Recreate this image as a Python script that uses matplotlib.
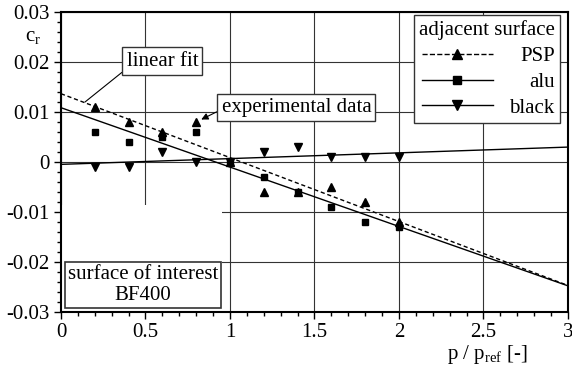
import numpy as np
import matplotlib.pyplot as plt
from matplotlib.lines import Line2D
from matplotlib.patches import Rectangle
from matplotlib.ticker import MultipleLocator, FuncFormatter

plt.rcParams["font.family"] = "Liberation Serif"
plt.rcParams["mathtext.fontset"] = "custom"
plt.rcParams["mathtext.rm"] = "Liberation Serif"
plt.rcParams["axes.unicode_minus"] = False

# pressure ratio p / p_ref and measured c_r per adjacent surface
p_ratio = [0.2, 0.4, 0.6, 0.8, 1.0, 1.2, 1.4, 1.6, 1.8, 2.0]
cr_psp = [0.011, 0.008, 0.006, 0.008, 0.0, -0.006, -0.006, -0.005, -0.008, -0.012]
cr_alu = [0.006, 0.004, 0.005, 0.006, 0.0, -0.003, -0.006, -0.009, -0.012, -0.013]
cr_black = [-0.001, -0.001, 0.002, 0.0, 0.0, 0.002, 0.003, 0.001, 0.001, 0.001]

x_fit = np.array([0.0, 3.0])
FS = 15

fig = plt.figure(figsize=(5.72, 3.65), dpi=100)
ax = fig.add_subplot(111)
fig.subplots_adjust(left=0.1066, right=0.993, top=0.967, bottom=0.1452)

series = [
    ("PSP", cr_psp, "^", 5.5, "--"),
    ("alu", cr_alu, "s", 4.2, "-"),
    ("black", cr_black, "v", 5.5, "-"),
]

handles = []
for name, vals, mk, ms, ls in series:
    ax.plot(p_ratio, vals, ls="none", marker=mk, ms=ms, color="black", zorder=3)
    slope, icpt = np.polyfit(p_ratio, vals, 1)
    ax.plot(x_fit, icpt + slope * x_fit, ls=ls, color="black", lw=1.0,
            dashes=(3, 2) if ls == "--" else (None, None), zorder=2)
    handles.append(Line2D([], [], color="black", lw=1.0, ls=ls, marker=mk, ms=ms + 1))

ax.set_xlim(0, 3)
ax.set_ylim(-0.03, 0.03)
ax.xaxis.set_major_locator(MultipleLocator(0.5))
ax.xaxis.set_minor_locator(MultipleLocator(0.1))
ax.yaxis.set_major_locator(MultipleLocator(0.01))
ax.yaxis.set_minor_locator(MultipleLocator(0.002))
fmt = FuncFormatter(lambda v, pos: "%g" % round(v, 6))
ax.xaxis.set_major_formatter(fmt)
ax.yaxis.set_major_formatter(fmt)
ax.tick_params(which="both", direction="out", labelsize=FS, width=1, pad=3)
ax.tick_params(which="major", length=5)
ax.tick_params(which="minor", length=3)
for sp in ax.spines.values():
    sp.set_linewidth(1.5)

ax.set_axisbelow(True)
ax.grid(True, which="major", color="0.2", lw=0.8)

# blank corner under the surface label
ax.add_patch(Rectangle((0, -0.03), 0.955, 0.0214, fc="white", ec="none", zorder=1))

ax.set_ylabel(r"c$_\mathrm{r}$", rotation=0, fontsize=FS, va="center", ha="center")
ax.yaxis.set_label_coords(-0.055, 0.915)
ax.set_xlabel(r"p / p$_\mathrm{ref}$ [-]", fontsize=FS, va="top")
ax.xaxis.set_label_coords(0.84, -0.103)

box = dict(boxstyle="square,pad=0.2", fc="white", ec="0.2", lw=1)
ax.annotate("linear fit", xy=(0.142, 0.012), xytext=(0.6, 0.0202),
            fontsize=FS, ha="center", va="center", bbox=box, zorder=4,
            arrowprops=dict(arrowstyle="-", color="black", lw=0.8,
                            shrinkA=0, shrinkB=0, relpos=(0, 0.1)))
ax.annotate("experimental data", xy=(0.83, 0.0085), xytext=(1.393, 0.0109),
            fontsize=FS, ha="center", va="center", bbox=box, zorder=4,
            arrowprops=dict(arrowstyle="-|>", color="black", lw=0.8,
                            mutation_scale=10, shrinkA=0, shrinkB=0,
                            relpos=(0, 0.4)))
ax.text(0.485, -0.0246, "surface of interest\nBF400", fontsize=FS,
        ha="center", va="center", linespacing=1.2, zorder=4,
        bbox=dict(boxstyle="square,pad=0.12", fc="white", ec="0.2", lw=1.2))

leg = ax.legend(handles, [s[0] for s in series], title="adjacent surface",
                loc="upper right", bbox_to_anchor=(0.984, 0.99), borderaxespad=0,
                fontsize=FS, title_fontsize=FS, frameon=True, fancybox=False,
                framealpha=1, edgecolor="0.2", handlelength=3.4,
                labelspacing=0.3, borderpad=0.25, alignment="right",
                handletextpad=0.8)
leg.get_frame().set_linewidth(1.0)
leg.set_zorder(5)

# right-align the legend labels while keeping the handles in one column
fig.canvas.draw()
renderer = fig.canvas.get_renderer()
rows = leg._legend_handle_box.get_children()[0].get_children()
widths = [row.get_children()[1].get_bbox(renderer).width for row in rows]
dpicor = renderer.points_to_pixels(1.0)
for row, w in zip(rows, widths):
    row.sep += (max(widths) - w) / dpicor

fig.savefig("out.png", dpi=100)
